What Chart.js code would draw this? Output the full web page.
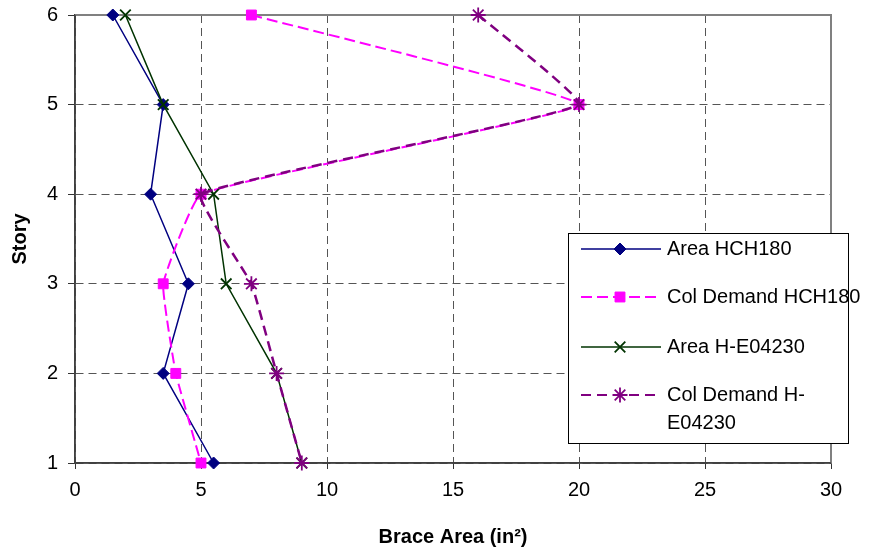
<!DOCTYPE html>
<html><head><meta charset="utf-8">
<script src="https://cdn.jsdelivr.net/npm/chart.js@4"></script>
<style>html,body{margin:0;padding:0;background:#fff}canvas{display:block}</style>
</head><body>
<canvas id="c" width="871" height="552"></canvas>
<script>
const stories = [6, 5, 4, 3, 2, 1];
const areaHCH180 = [1.5, 3.5, 3, 4.5, 3.5, 5.5];
const colDemandHCH180 = [7, 20, 5, 3.5, 4, 5];
const areaHE04230 = [2, 3.5, 5.5, 6, 8, 9];
const colDemandHE04230 = [16, 20, 5, 7, 8, 9];
const seriesNames = ['Area HCH180', 'Col Demand HCH180', 'Area H-E04230', 'Col Demand H-E04230'];
const legendLines = [['Area HCH180'], ['Col Demand HCH180'], ['Area H-E04230'], ['Col Demand H-', 'E04230']];
const xTicks = [0, 5, 10, 15, 20, 25, 30];
const yTicks = [1, 2, 3, 4, 5, 6];
const xTitle = 'Brace Area (in\u00B2)';
const yTitle = 'Story';

const FONT = "'Liberation Sans', Arial, sans-serif";

function pts(xs) { return xs.map((x, i) => ({ x: x, y: stories[i] })); }

const styles = [
  { color: '#000080', pointStyle: 'rectRot', radius: 6, dash: [], width: 1.5, tension: 0 },
  { color: '#FF00FF', pointStyle: 'rect', radius: 7, dash: [11, 5], width: 2, tension: 0.1 },
  { color: '#003300', pointStyle: 'crossRot', radius: 7.5, dash: [], width: 1.5, tension: 0 },
  { color: '#800080', pointStyle: 'star', radius: 7.5, dash: [10, 6], width: 2.5, tension: 0.1 }
];
const seriesData = [areaHCH180, colDemandHCH180, areaHE04230, colDemandHE04230];

const datasets = seriesData.map((d, i) => ({
  label: seriesNames[i],
  data: pts(d),
  showLine: true,
  borderColor: styles[i].color,
  backgroundColor: styles[i].color,
  borderWidth: styles[i].width,
  borderDash: styles[i].dash,
  tension: styles[i].tension,
  pointStyle: styles[i].pointStyle,
  pointRadius: styles[i].radius,
  pointHoverRadius: styles[i].radius,
  pointBorderWidth: (styles[i].pointStyle === 'crossRot' || styles[i].pointStyle === 'star') ? 1.8 : 1,
  pointBorderColor: styles[i].color,
  pointBackgroundColor: styles[i].color,
  order: 4 - i,
  clip: false
}));

const frame = {
  id: 'frame',
  beforeDatasetsDraw(chart) {
    const { ctx, chartArea: a } = chart;
    ctx.save();
    ctx.strokeStyle = '#808080';
    ctx.lineWidth = 2;
    ctx.setLineDash([]);
    ctx.beginPath();
    ctx.moveTo(a.left, a.top);
    ctx.lineTo(a.right, a.top);
    ctx.lineTo(a.right, a.bottom);
    ctx.stroke();
    ctx.strokeStyle = '#404040';
    ctx.lineWidth = 1.5;
    ctx.beginPath();
    ctx.moveTo(a.left, a.top);
    ctx.lineTo(a.left, a.bottom);
    ctx.lineTo(a.right, a.bottom);
    ctx.stroke();
    ctx.restore();
  }
};

const legendBox = {
  id: 'legendBox',
  afterDraw(chart) {
    const { ctx } = chart;
    const bx = 568, by = 233, bw = 280, bh = 210;
    const rowsY = [249, 297, 347, 395];
    ctx.save();
    ctx.fillStyle = '#fff';
    ctx.fillRect(bx, by, bw, bh);
    ctx.strokeStyle = '#000';
    ctx.lineWidth = 1;
    ctx.setLineDash([]);
    ctx.strokeRect(bx + 0.5, by + 0.5, bw, bh);
    chart.data.datasets.forEach((ds, i) => {
      const y = rowsY[i];
      ctx.save();
      ctx.strokeStyle = ds.borderColor;
      ctx.lineWidth = Math.min(ds.borderWidth, 2);
      ctx.setLineDash(ds.borderDash);
      ctx.beginPath();
      ctx.moveTo(581, y);
      ctx.lineTo(661, y);
      ctx.stroke();
      ctx.setLineDash([]);
      ctx.fillStyle = ds.pointBackgroundColor;
      ctx.strokeStyle = ds.pointBorderColor;
      ctx.lineWidth = ds.pointBorderWidth;
      Chart.helpers.drawPoint(ctx, { pointStyle: ds.pointStyle, radius: ds.pointRadius, borderWidth: ds.pointBorderWidth, rotation: 0 }, 620, y);
      ctx.restore();
      ctx.fillStyle = '#000';
      ctx.font = '20px ' + FONT;
      ctx.textBaseline = 'middle';
      ctx.textAlign = 'left';
      legendLines[i].forEach((t, k) => ctx.fillText(t, 667, y + k * 28));
    });
    ctx.restore();
  }
};

new Chart(document.getElementById('c'), {
  type: 'scatter',
  data: { datasets },
  options: {
    responsive: false,
    animation: false,
    events: [],
    layout: { padding: { left: 0, top: 15, right: 40, bottom: 0 } },
    plugins: { legend: { display: false }, tooltip: { enabled: false } },
    scales: {
      x: {
        type: 'linear',
        min: 0, max: 30,
        afterBuildTicks: s => { s.ticks = xTicks.map(v => ({ value: v })); },
        afterFit: s => { s.height = 89; s.paddingLeft = 0; s.paddingRight = 0; },
        grid: { color: '#555', lineWidth: 1, tickLength: 6, tickColor: '#333', tickWidth: 1 },
        border: { display: true, color: '#404040', width: 1.5, dash: [8, 5] },
        ticks: { color: '#000', font: { family: FONT, size: 20 }, padding: 9 },
        title: { display: true, text: xTitle, color: '#000', font: { family: FONT, size: 20, weight: 'bold' }, padding: { top: 0, bottom: 3 } }
      },
      y: {
        type: 'linear',
        min: 1, max: 6,
        afterBuildTicks: s => { s.ticks = yTicks.map(v => ({ value: v })); },
        afterFit: s => { s.width = 75; s.paddingTop = 0; s.paddingBottom = 0; },
        grid: { color: '#555', lineWidth: 1, tickLength: 7, tickColor: '#333', tickWidth: 1 },
        border: { display: true, color: '#404040', width: 1.5, dash: [8, 5] },
        ticks: { color: '#000', font: { family: FONT, size: 20 }, padding: 10 },
        title: { display: true, text: yTitle, color: '#000', font: { family: FONT, size: 20, weight: 'bold' }, padding: { top: 8, bottom: 0 } }
      }
    }
  },
  plugins: [frame, legendBox]
});
</script>
</body></html>
